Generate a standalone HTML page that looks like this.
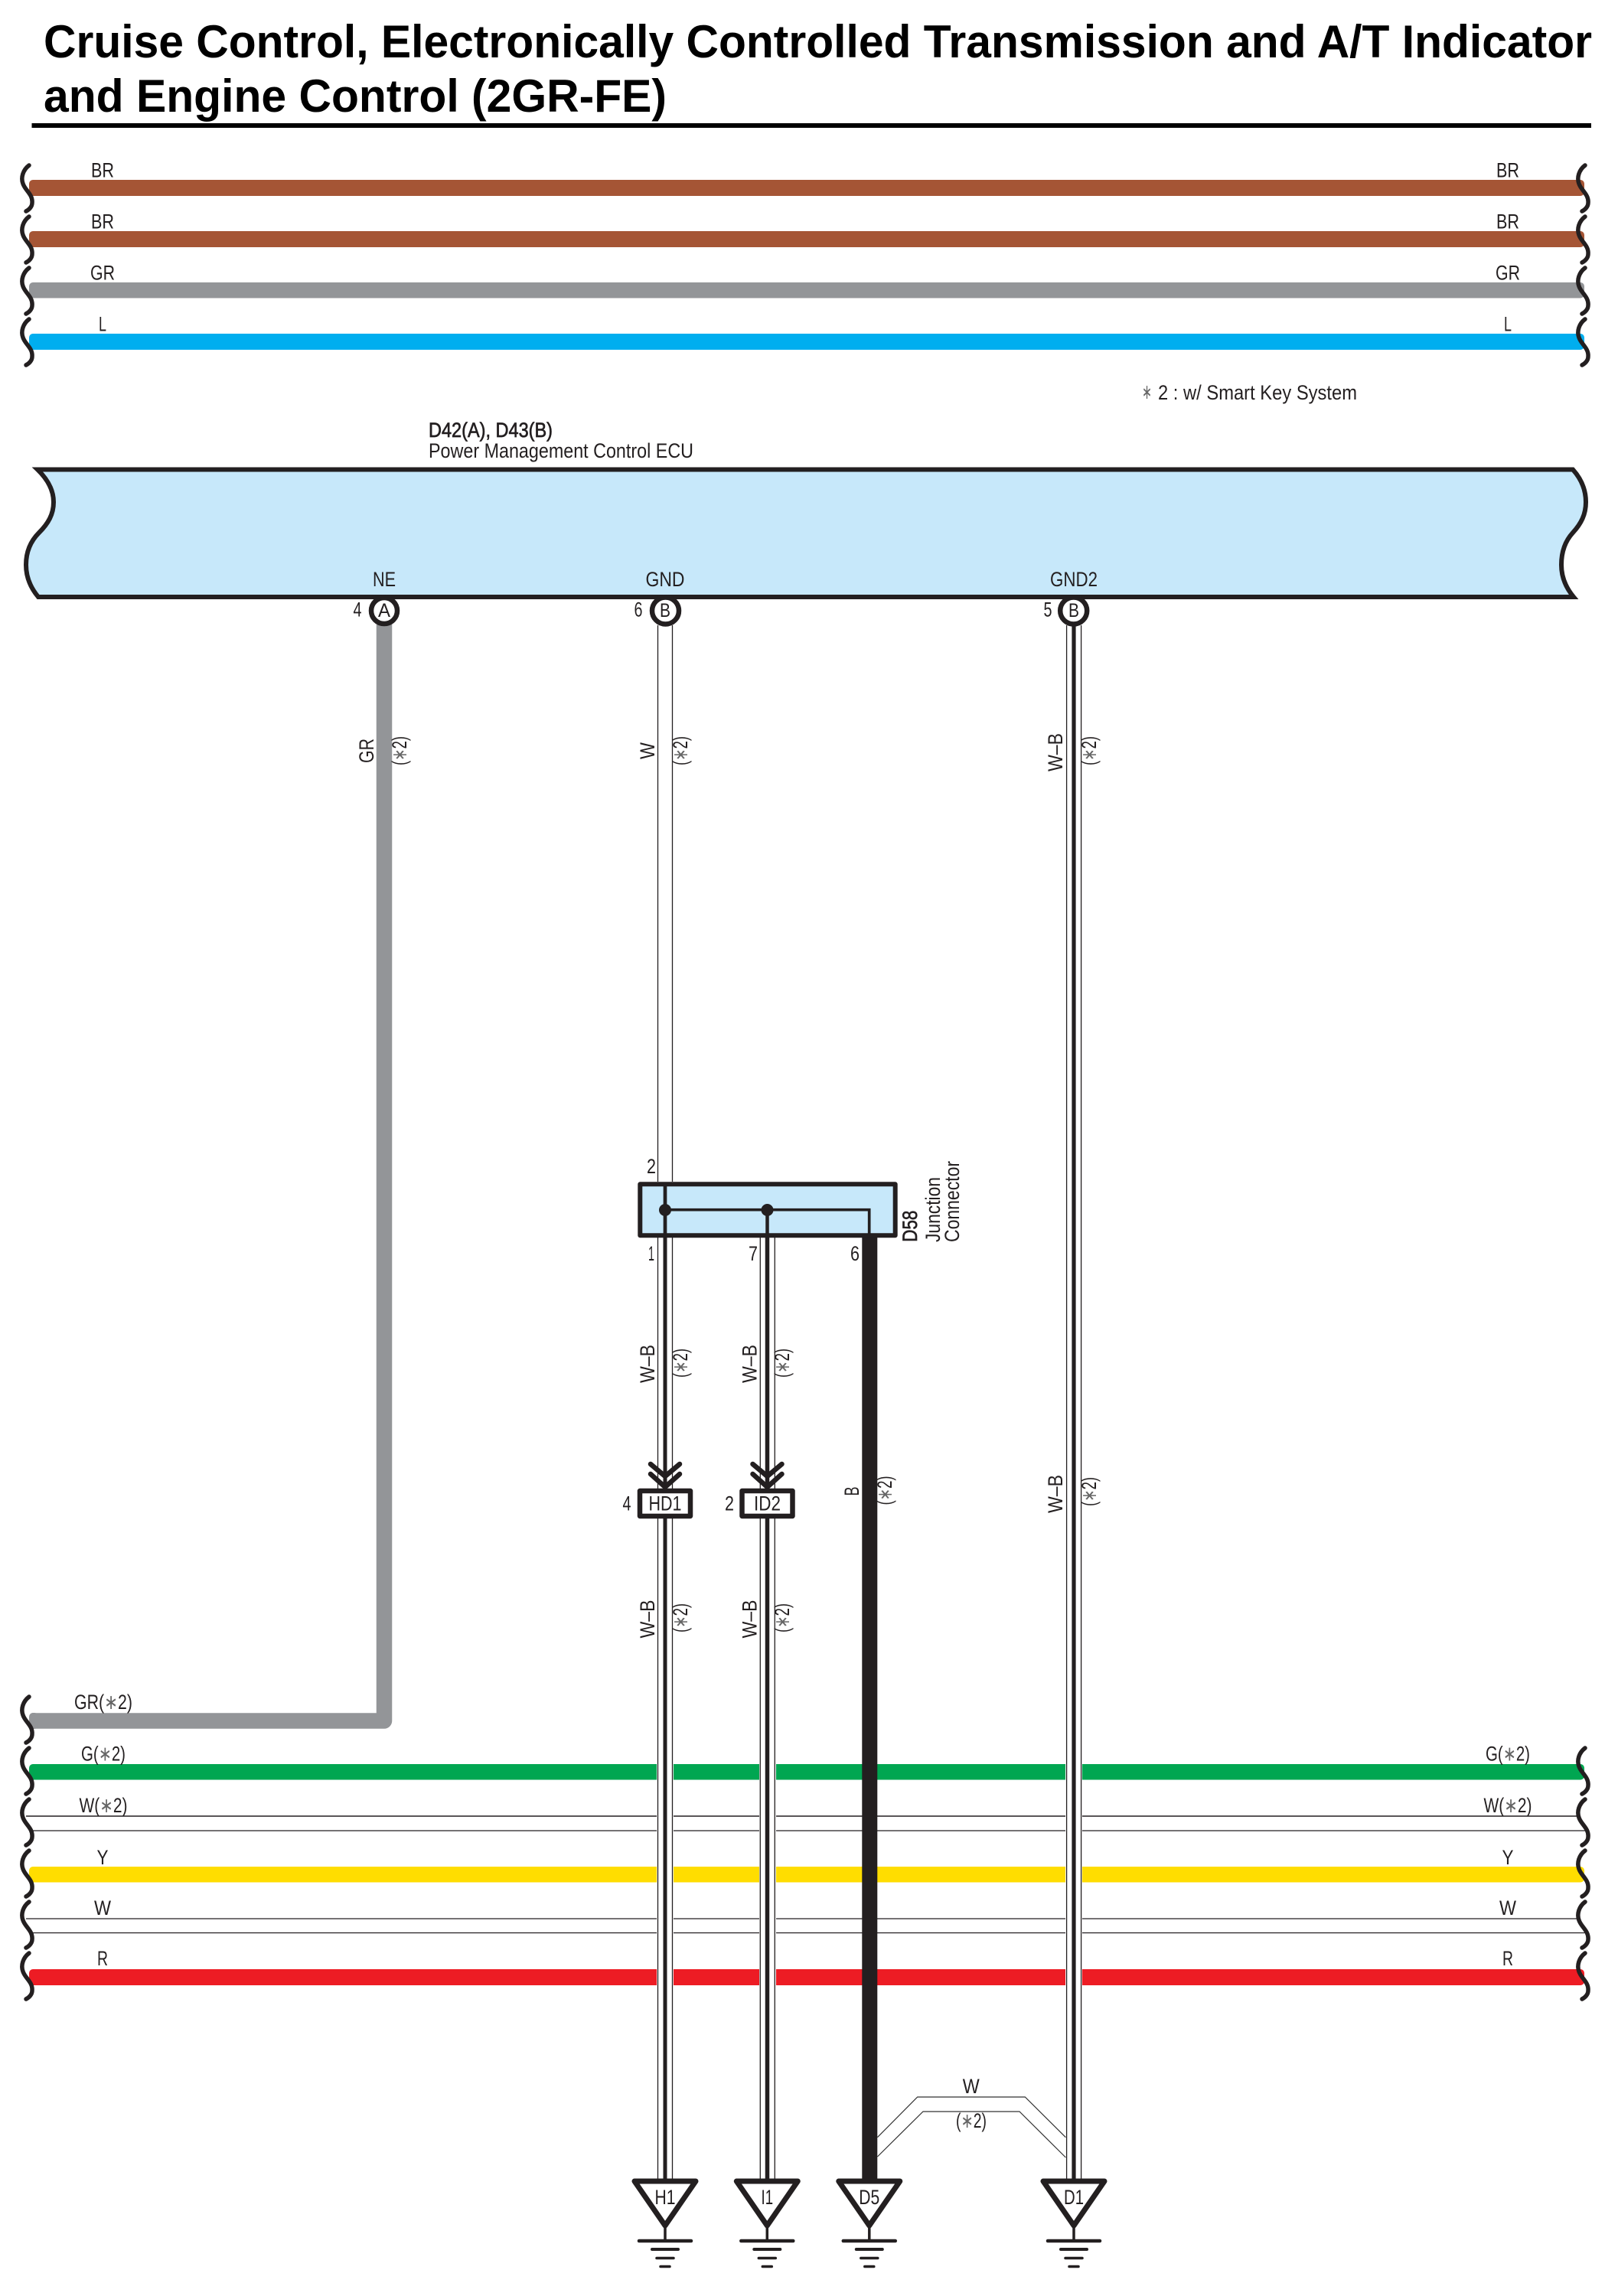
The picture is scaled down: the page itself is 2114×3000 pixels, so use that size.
<!DOCTYPE html>
<html><head><meta charset="utf-8"><title>Cruise Control Diagram</title>
<style>
html,body{margin:0;padding:0;background:#fff}
svg{display:block}
text{font-family:"Liberation Sans","DejaVu Sans",sans-serif;fill:#231F20;font-size:27px}
tspan{fill:#666}
.m{text-anchor:middle}
</style></head><body>
<svg width="2114" height="3000" viewBox="0 0 2114 3000" xmlns="http://www.w3.org/2000/svg">
<defs>
<path id="w" d="M38 216C30 222 27 232 30 240C33 249 43 254 42 265C42 270 38 274 34 276" fill="none" stroke="#231F20" stroke-width="5.5" stroke-linecap="round"/>
<g id="gnd">
<path d="M0 2905V2928" stroke="#231F20" stroke-width="3.5"/>
<path d="M-40 2850H40L0 2908Z" fill="#fff" stroke="#231F20" stroke-width="7" stroke-linejoin="round"/>
<path d="M-34 2928H34" stroke="#231F20" stroke-width="4.5" stroke-linecap="round"/>
<path d="M-17 2939H17" stroke="#231F20" stroke-width="4" stroke-linecap="round"/>
<path d="M-11 2950.5H11" stroke="#231F20" stroke-width="3.5" stroke-linecap="round"/>
<path d="M-6 2961.5H6" stroke="#231F20" stroke-width="3.5" stroke-linecap="round"/>
</g>
</defs>
<rect width="2114" height="3000" fill="#fff"/>

<!-- Title -->
<text x="57" y="75" style="font-size:60px;font-weight:bold;fill:#000" textLength="2023" lengthAdjust="spacingAndGlyphs">Cruise Control, Electronically Controlled Transmission and A/T Indicator</text>
<text x="57" y="146" style="font-size:60px;font-weight:bold;fill:#000" textLength="814" lengthAdjust="spacingAndGlyphs">and Engine Control (2GR-FE)</text>
<rect x="41.5" y="161" width="2037.5" height="6" fill="#000"/>

<!-- Top wires -->
<rect x="38" y="235" width="2032" height="21" rx="5" fill="#A55535"/>
<rect x="38" y="302" width="2032" height="21" rx="5" fill="#A55535"/>
<rect x="38" y="369" width="2032" height="20.5" rx="5" fill="#939598"/>
<rect x="38" y="436" width="2032" height="21" rx="5" fill="#00AEEF"/>
<use href="#w"/><use href="#w" y="67"/><use href="#w" y="134"/><use href="#w" y="201"/>
<use href="#w" x="2033"/><use href="#w" x="2033" y="67"/><use href="#w" x="2033" y="134"/><use href="#w" x="2033" y="201"/>
<text class="m" x="134" y="231.5" textLength="30" lengthAdjust="spacingAndGlyphs">BR</text>
<text class="m" x="134" y="298.5" textLength="30" lengthAdjust="spacingAndGlyphs">BR</text>
<text class="m" x="134" y="365.5" textLength="32" lengthAdjust="spacingAndGlyphs">GR</text>
<text class="m" x="134" y="432.5" textLength="10" lengthAdjust="spacingAndGlyphs">L</text>
<text class="m" x="1970" y="231.5" textLength="30" lengthAdjust="spacingAndGlyphs">BR</text>
<text class="m" x="1970" y="298.5" textLength="30" lengthAdjust="spacingAndGlyphs">BR</text>
<text class="m" x="1970" y="365.5" textLength="32" lengthAdjust="spacingAndGlyphs">GR</text>
<text class="m" x="1970" y="432.5" textLength="10" lengthAdjust="spacingAndGlyphs">L</text>

<text x="1492" y="521" style="fill:#666" textLength="13" lengthAdjust="spacingAndGlyphs">∗</text>
<text x="1513" y="522" textLength="260" lengthAdjust="spacingAndGlyphs">2 : w/ Smart Key System</text>

<!-- ECU -->
<text x="560" y="571" style="stroke:#231F20;stroke-width:.7" textLength="162" lengthAdjust="spacingAndGlyphs">D42(A), D43(B)</text>
<text x="560" y="598" textLength="346" lengthAdjust="spacingAndGlyphs">Power Management Control ECU</text>
<path d="M49 613.5H2055C2068 628 2072 642 2072 656C2072 672 2066 684 2055 696C2044 708 2040 722 2040 738C2040 754 2046 768 2056 780H50C40 768 34 754 34 738C34 722 39 708 51 696C63 684 70 672 70 656C70 642 64 628 49 613.5Z" fill="#C7E8FA" stroke="#231F20" stroke-width="6" stroke-linejoin="miter"/>
<text class="m" x="502" y="766" textLength="30" lengthAdjust="spacingAndGlyphs">NE</text>
<text class="m" x="869" y="766" textLength="51" lengthAdjust="spacingAndGlyphs">GND</text>
<text class="m" x="1403" y="766" textLength="62" lengthAdjust="spacingAndGlyphs">GND2</text>

<!-- Bottom harness wires -->
<path d="M502 816V2248.5H42" fill="none" stroke="#939598" stroke-width="20.5" stroke-linejoin="round"/>
<rect x="38" y="2238" width="12" height="21" rx="5" fill="#939598"/>
<rect x="38" y="2305" width="2032" height="20.5" rx="5" fill="#00A651"/>
<path d="M34 2373H2063" stroke="#231F20" stroke-width="1.6"/>
<path d="M43 2392H2074" stroke="#231F20" stroke-width="1.3"/>
<rect x="38" y="2439" width="2032" height="20.5" rx="5" fill="#FFDD00"/>
<path d="M34 2507H2063" stroke="#231F20" stroke-width="1.3"/>
<path d="M43 2525.5H2074" stroke="#231F20" stroke-width="1.3"/>
<rect x="38" y="2573" width="2032" height="21" rx="5" fill="#ED1C24"/>
<use href="#w" y="2001"/><use href="#w" y="2068"/><use href="#w" y="2135"/><use href="#w" y="2202"/><use href="#w" y="2269"/><use href="#w" y="2336"/>
<use href="#w" x="2033" y="2068"/><use href="#w" x="2033" y="2135"/><use href="#w" x="2033" y="2202"/><use href="#w" x="2033" y="2269"/><use href="#w" x="2033" y="2336"/>
<text class="m" x="135" y="2233" textLength="76" lengthAdjust="spacingAndGlyphs">GR(<tspan>∗</tspan>2)</text>
<text class="m" x="135" y="2300.5" textLength="58" lengthAdjust="spacingAndGlyphs">G(<tspan>∗</tspan>2)</text>
<text class="m" x="135" y="2368" textLength="63" lengthAdjust="spacingAndGlyphs">W(<tspan>∗</tspan>2)</text>
<text class="m" x="134" y="2436" textLength="15" lengthAdjust="spacingAndGlyphs">Y</text>
<text class="m" x="134" y="2502" textLength="22" lengthAdjust="spacingAndGlyphs">W</text>
<text class="m" x="134" y="2568" textLength="14" lengthAdjust="spacingAndGlyphs">R</text>
<text class="m" x="1970" y="2300.5" textLength="58" lengthAdjust="spacingAndGlyphs">G(<tspan>∗</tspan>2)</text>
<text class="m" x="1970" y="2368" textLength="63" lengthAdjust="spacingAndGlyphs">W(<tspan>∗</tspan>2)</text>
<text class="m" x="1970" y="2436" textLength="15" lengthAdjust="spacingAndGlyphs">Y</text>
<text class="m" x="1970" y="2502" textLength="22" lengthAdjust="spacingAndGlyphs">W</text>
<text class="m" x="1970" y="2568" textLength="14" lengthAdjust="spacingAndGlyphs">R</text>

<!-- Column gaps in harness -->
<rect x="858" y="2296" width="22" height="304" fill="#fff"/>
<rect x="992" y="2296" width="22" height="304" fill="#fff"/>
<rect x="1392" y="2296" width="22" height="304" fill="#fff"/>

<!-- Col 1 upper white wire -->
<path d="M859.5 817V1544M878.5 817V1544" stroke="#231F20" stroke-width="1.3"/>
<!-- Col 1 lower -->
<path d="M859.5 1617V1945M878.5 1617V1945M859.5 1984V2850M878.5 1984V2850" stroke="#231F20" stroke-width="1.3"/>
<path d="M869 1617V2850" stroke="#231F20" stroke-width="5"/>
<!-- Col 2 -->
<path d="M993.3 1617V1945M1012.3 1617V1945M993.3 1984V2850M1012.3 1984V2850" stroke="#231F20" stroke-width="1.3"/>
<path d="M1002.5 1617V2850" stroke="#231F20" stroke-width="5.5"/>
<!-- Col 3 -->
<path d="M1136.3 1617V2850" stroke="#231F20" stroke-width="20"/>
<!-- Col 4 -->
<path d="M1393.6 817V2850M1412.6 817V2850" stroke="#231F20" stroke-width="1.3"/>
<path d="M1403 817V2850" stroke="#231F20" stroke-width="5.2"/>

<!-- Pins -->
<circle cx="502" cy="798" r="17" fill="#fff" stroke="#231F20" stroke-width="6.5"/>
<circle cx="869.5" cy="798" r="17.5" fill="#fff" stroke="#231F20" stroke-width="6.5"/>
<circle cx="1402.7" cy="798" r="17.5" fill="#fff" stroke="#231F20" stroke-width="6.5"/>
<text class="m" x="502" y="806" style="font-size:25px" textLength="16" lengthAdjust="spacingAndGlyphs">A</text>
<text class="m" x="869" y="806" style="font-size:25px" textLength="14" lengthAdjust="spacingAndGlyphs">B</text>
<text class="m" x="1403" y="806" style="font-size:25px" textLength="14" lengthAdjust="spacingAndGlyphs">B</text>
<text class="m" x="467" y="805.5" textLength="11" lengthAdjust="spacingAndGlyphs">4</text>
<text class="m" x="834" y="805.5" textLength="11" lengthAdjust="spacingAndGlyphs">6</text>
<text class="m" x="1369" y="805.5" textLength="11" lengthAdjust="spacingAndGlyphs">5</text>

<!-- Junction connector -->
<rect x="836.3" y="1547.3" width="333.4" height="67" fill="#C7E8FA" stroke="#231F20" stroke-width="6" stroke-linejoin="round"/>
<path d="M869 1547V1614" stroke="#231F20" stroke-width="4.7"/>
<path d="M869 1580.7H1135.7V1614" fill="none" stroke="#231F20" stroke-width="3.7"/>
<path d="M1002.5 1581V1614" stroke="#231F20" stroke-width="4.5"/>
<circle cx="869" cy="1581" r="8" fill="#231F20"/>
<circle cx="1002.5" cy="1581" r="8" fill="#231F20"/>
<text class="m" x="851" y="1533" textLength="12" lengthAdjust="spacingAndGlyphs">2</text>
<text class="m" x="851" y="1647" textLength="8" lengthAdjust="spacingAndGlyphs">1</text>
<text class="m" x="984" y="1647" textLength="12" lengthAdjust="spacingAndGlyphs">7</text>
<text class="m" x="1117" y="1647" textLength="12" lengthAdjust="spacingAndGlyphs">6</text>
<text transform="translate(1198,1622.7) rotate(-90)" style="stroke:#231F20;stroke-width:.7" textLength="41" lengthAdjust="spacingAndGlyphs">D58</text>
<text transform="translate(1228,1623) rotate(-90)" textLength="85" lengthAdjust="spacingAndGlyphs">Junction</text>
<text transform="translate(1253,1623) rotate(-90)" textLength="106" lengthAdjust="spacingAndGlyphs">Connector</text>

<!-- Chevrons -->
<g fill="none" stroke="#231F20" stroke-width="6.5" stroke-linecap="round">
<path d="M850 1913L869 1929L888 1913M850 1926L869 1943L888 1926"/>
<path d="M983.5 1913L1002.5 1929L1021.5 1913M983.5 1926L1002.5 1943L1021.5 1926"/>
</g>

<!-- HD1, ID2 -->
<rect x="836" y="1948" width="66" height="33" fill="#fff" stroke="#231F20" stroke-width="6.5" stroke-linejoin="round"/>
<rect x="969.5" y="1948" width="66" height="33" fill="#fff" stroke="#231F20" stroke-width="6.5" stroke-linejoin="round"/>
<text class="m" x="869" y="1973.5" textLength="43" lengthAdjust="spacingAndGlyphs">HD1</text>
<text class="m" x="1002.5" y="1973.5" textLength="35" lengthAdjust="spacingAndGlyphs">ID2</text>
<text class="m" x="819" y="1973.5" textLength="11" lengthAdjust="spacingAndGlyphs">4</text>
<text class="m" x="953" y="1973.5" textLength="12" lengthAdjust="spacingAndGlyphs">2</text>

<!-- Rotated wire labels: upper -->
<text class="m" transform="translate(488,981) rotate(-90)" textLength="32" lengthAdjust="spacingAndGlyphs">GR</text>
<text class="m" transform="translate(531,981) rotate(-90)" textLength="38" lengthAdjust="spacingAndGlyphs">(<tspan>∗</tspan>2)</text>
<text class="m" transform="translate(855,981) rotate(-90)" textLength="22" lengthAdjust="spacingAndGlyphs">W</text>
<text class="m" transform="translate(898,981) rotate(-90)" textLength="38" lengthAdjust="spacingAndGlyphs">(<tspan>∗</tspan>2)</text>
<text class="m" transform="translate(1388,983) rotate(-90)" textLength="50" lengthAdjust="spacingAndGlyphs">W–B</text>
<text class="m" transform="translate(1432,981) rotate(-90)" textLength="38" lengthAdjust="spacingAndGlyphs">(<tspan>∗</tspan>2)</text>
<!-- mid -->
<text class="m" transform="translate(855,1782) rotate(-90)" textLength="50" lengthAdjust="spacingAndGlyphs">W–B</text>
<text class="m" transform="translate(898,1781) rotate(-90)" textLength="38" lengthAdjust="spacingAndGlyphs">(<tspan>∗</tspan>2)</text>
<text class="m" transform="translate(988.5,1782) rotate(-90)" textLength="50" lengthAdjust="spacingAndGlyphs">W–B</text>
<text class="m" transform="translate(1031,1781) rotate(-90)" textLength="38" lengthAdjust="spacingAndGlyphs">(<tspan>∗</tspan>2)</text>
<text class="m" transform="translate(1122,1948.5) rotate(-90)" textLength="12" lengthAdjust="spacingAndGlyphs">B</text>
<text class="m" transform="translate(1165,1947.5) rotate(-90)" textLength="38" lengthAdjust="spacingAndGlyphs">(<tspan>∗</tspan>2)</text>
<text class="m" transform="translate(1388,1952) rotate(-90)" textLength="50" lengthAdjust="spacingAndGlyphs">W–B</text>
<text class="m" transform="translate(1432,1949) rotate(-90)" textLength="38" lengthAdjust="spacingAndGlyphs">(<tspan>∗</tspan>2)</text>
<!-- lower -->
<text class="m" transform="translate(855,2115.5) rotate(-90)" textLength="50" lengthAdjust="spacingAndGlyphs">W–B</text>
<text class="m" transform="translate(898,2114) rotate(-90)" textLength="38" lengthAdjust="spacingAndGlyphs">(<tspan>∗</tspan>2)</text>
<text class="m" transform="translate(988.5,2115.5) rotate(-90)" textLength="50" lengthAdjust="spacingAndGlyphs">W–B</text>
<text class="m" transform="translate(1031,2114) rotate(-90)" textLength="38" lengthAdjust="spacingAndGlyphs">(<tspan>∗</tspan>2)</text>

<!-- W jumper -->
<path d="M1146.4 2792.7L1198.7 2740H1339.3L1392.4 2792.7M1146.4 2818L1206 2759H1332L1392.4 2819" fill="none" stroke="#333" stroke-width="1.2"/>
<text class="m" x="1268.7" y="2735" textLength="22" lengthAdjust="spacingAndGlyphs">W</text>
<text class="m" x="1269" y="2780" textLength="40" lengthAdjust="spacingAndGlyphs">(<tspan>∗</tspan>2)</text>

<!-- Grounds -->
<use href="#gnd" x="869"/><use href="#gnd" x="1002.3"/><use href="#gnd" x="1135.8"/><use href="#gnd" x="1403"/>
<text class="m" x="869" y="2880" textLength="27" lengthAdjust="spacingAndGlyphs">H1</text>
<text class="m" x="1002.3" y="2880" textLength="15.6" lengthAdjust="spacingAndGlyphs">I1</text>
<text class="m" x="1135.8" y="2880" textLength="27" lengthAdjust="spacingAndGlyphs">D5</text>
<text class="m" x="1403" y="2880" textLength="26" lengthAdjust="spacingAndGlyphs">D1</text>
</svg>
</body></html>
